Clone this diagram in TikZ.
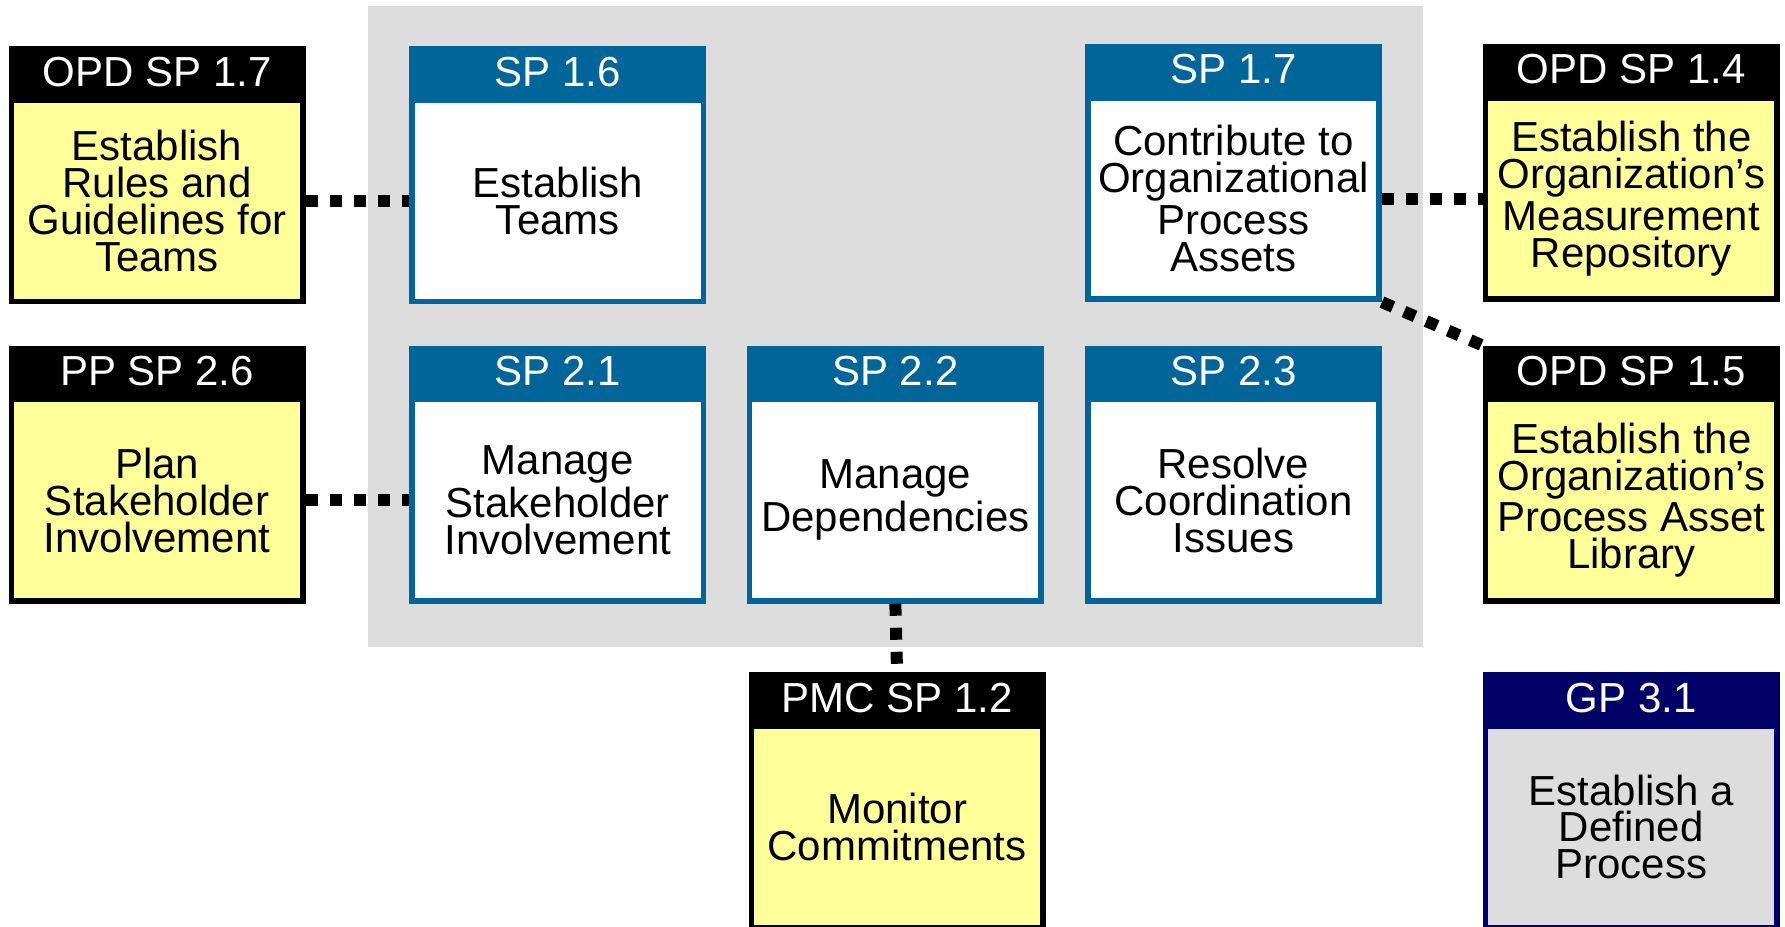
\documentclass[tikz,border=0pt]{standalone}
\usepackage{fontspec}
\setmainfont{Liberation Sans}
\usetikzlibrary{positioning}
\definecolor{capblue}{HTML}{006699}
\definecolor{capnavy}{HTML}{000066}
\definecolor{capyellow}{HTML}{FFFF99}
\definecolor{capgray}{HTML}{DDDDDD}
\begin{document}
\begin{tikzpicture}[scale = 1,
        every node/.style = {font=\fontsize{10.5}{9.2}\selectfont, align=center, inner sep=0pt, line width=1.4pt},
        head/.style       = {minimum width=2.56cm, minimum height=0.40cm, text=white},
        body/.style       = {minimum width=2.56cm, minimum height=1.77cm},
        pahead/.style     = {head, fill=capblue, draw=capblue},
        pabody/.style     = {body, fill=white, draw=capblue},
        exthead/.style    = {head, fill=black, draw=black},
        extbody/.style    = {body, fill=capyellow, draw=black},
        gphead/.style     = {head, fill=capnavy, draw=capnavy},
        gpbody/.style     = {body, fill=capgray, draw=capnavy},
        link/.style       = {line width=3pt, dash pattern=on 3pt off 3pt}]
        \useasboundingbox (0,0) rectangle (15.68,8.14);
        \coordinate (opd17)  at ( 1.38,  7.51);
        \coordinate (sp16)   at ( 4.90,  7.51);
        \coordinate (sp17)   at (10.835, 7.53);
        \coordinate (opd14)  at (14.33,  7.53);
        \coordinate (pp26)   at ( 1.38,  4.88);
        \coordinate (sp21)   at ( 4.90,  4.88);
        \coordinate (sp22)   at ( 7.865, 4.88);
        \coordinate (sp23)   at (10.835, 4.88);
        \coordinate (opd15)  at (14.33,  4.88);
        \coordinate (pmc12)  at ( 7.88,  2.01);
        \coordinate (gp31)   at (14.33,  2.01);
        \fill[capgray] (3.23,2.46) rectangle (12.50,8.09);
        \node[pahead] (sp16h) at (sp16) {SP 1.6};
        \node[pabody, below=0pt of sp16h] (sp16b) {Establish\\Teams};
        \node[pahead] (sp17h) at (sp17) {SP 1.7};
        \node[pabody, below=0pt of sp17h] (sp17b) {Contribute to\\Organizational\\Process\\Assets};
        \node[pahead] (sp21h) at (sp21) {SP 2.1};
        \node[pabody, below=0pt of sp21h] (sp21b) {Manage\\Stakeholder\\Involvement};
        \node[pahead] (sp22h) at (sp22) {SP 2.2};
        \node[pabody, below=0pt of sp22h] (sp22b) {Manage\\Dependencies};
        \node[pahead] (sp23h) at (sp23) {SP 2.3};
        \node[pabody, below=0pt of sp23h] (sp23b) {Resolve\\Coordination\\Issues};
        \node[exthead] (opd17h) at (opd17) {OPD SP 1.7};
        \node[extbody, below=0pt of opd17h] (opd17b) {Establish\\Rules and\\Guidelines for\\Teams};
        \node[exthead] (opd14h) at (opd14) {OPD SP 1.4};
        \node[extbody, below=0pt of opd14h] (opd14b) {Establish the\\Organization’s\\Measurement\\Repository};
        \node[exthead] (pp26h) at (pp26) {PP SP 2.6};
        \node[extbody, below=0pt of pp26h] (pp26b) {Plan\\Stakeholder\\Involvement};
        \node[exthead] (opd15h) at (opd15) {OPD SP 1.5};
        \node[extbody, below=0pt of opd15h] (opd15b) {Establish the\\Organization’s\\Process Asset\\Library};
        \node[exthead] (pmc12h) at (pmc12) {PMC SP 1.2};
        \node[extbody, below=0pt of pmc12h] (pmc12b) {Monitor\\Commitments};
        \node[gphead] (gp31h) at (gp31) {GP 3.1};
        \node[gpbody, below=0pt of gp31h] (gp31b) {Establish a\\Defined\\Process};
        \draw[link] (opd17b.east) -- (sp16b.west);
        \draw[link] (pp26b.east) -- (sp21b.west);
        \draw[link] (sp17b.east) -- (opd14b.west);
        \draw[link] (sp17b.south east) -- (opd15h.north west);
        \draw[link] (sp22b.south) -- (pmc12h.north);
      \end{tikzpicture}
\end{document}
